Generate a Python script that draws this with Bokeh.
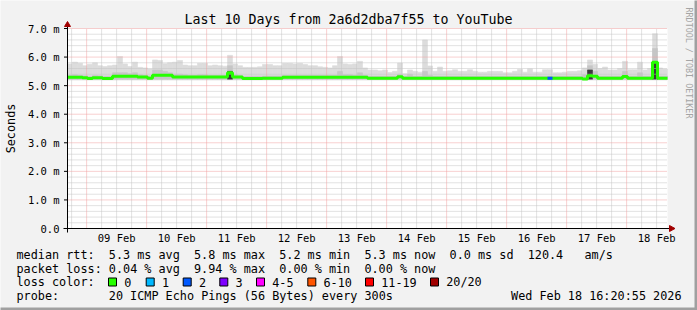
import re
import math
from datetime import datetime, timedelta
from bokeh.plotting import figure
from bokeh.models import Range1d
from bokeh.core.properties import value
from bokeh.embed import file_html
from bokeh.resources import INLINE

# ---------------- data ----------------
end_time = datetime(2026, 2, 18, 16, 20, 55)
days_shown = 10
bin_hours = 2

# median rtt per 2-hour bin (ms)
median_rtt = [
    5.29, 5.29, 5.29, 5.28, 5.25, 5.28, 5.28, 5.25, 5.25, 5.33,
    5.33, 5.33, 5.33, 5.33, 5.30, 5.30, 5.26, 5.36, 5.36, 5.36,
    5.36, 5.30, 5.30, 5.30, 5.30, 5.30, 5.30, 5.30, 5.30, 5.30,
    5.30, 5.30, 5.45, 5.30, 5.30, 5.25, 5.25, 5.25, 5.25, 5.26,
    5.26, 5.26, 5.26, 5.29, 5.29, 5.29, 5.29, 5.29, 5.29, 5.29,
    5.29, 5.29, 5.29, 5.29, 5.29, 5.29, 5.29, 5.29, 5.29, 5.29,
    5.26, 5.26, 5.26, 5.26, 5.26, 5.26, 5.31, 5.26, 5.26, 5.26,
    5.26, 5.26, 5.26, 5.26, 5.26, 5.26, 5.26, 5.26, 5.26, 5.26,
    5.26, 5.26, 5.26, 5.26, 5.26, 5.26, 5.26, 5.26, 5.26, 5.26,
    5.26, 5.26, 5.26, 5.26, 5.26, 5.26, 5.26, 5.26, 5.26, 5.26,
    5.26, 5.26, 5.26, 5.23, 5.35, 5.33, 5.26, 5.26, 5.26, 5.26,
    5.26, 5.32, 5.26, 5.26, 5.26, 5.26, 5.26, 5.82, 5.26, 5.26,
]

# highest ping of each bin (top of the light smoke), ms
smoke_max = [
    5.76, 5.82, 5.78, 5.70, 5.75, 5.80, 5.70, 5.67, 5.70, 5.72,
    6.02, 5.76, 5.67, 5.82, 5.64, 5.62, 5.58, 5.90, 5.88, 5.77,
    5.80, 5.82, 5.88, 5.72, 5.70, 5.70, 5.78, 5.78, 5.70, 5.72,
    5.70, 5.68, 6.06, 5.76, 5.70, 5.64, 5.64, 5.64, 5.66, 5.74,
    5.74, 5.70, 5.70, 5.78, 5.78, 5.76, 5.78, 5.74, 5.70, 5.70,
    5.66, 5.64, 5.62, 5.70, 6.02, 5.76, 5.74, 5.76, 5.85, 5.62,
    5.55, 5.55, 5.52, 5.55, 5.46, 5.50, 5.79, 5.42, 5.55, 5.50,
    5.47, 6.60, 5.69, 5.50, 5.65, 5.50, 5.52, 5.56, 5.50, 5.50,
    5.56, 5.50, 5.47, 5.47, 5.50, 5.50, 5.50, 5.45, 5.45, 5.50,
    5.57, 5.47, 5.59, 5.47, 5.47, 5.56, 5.56, 5.45, 5.45, 5.47,
    5.50, 5.50, 5.52, 5.62, 5.90, 5.75, 5.60, 5.65, 5.55, 5.55,
    5.60, 5.85, 5.56, 5.56, 5.82, 5.55, 5.60, 6.82, 5.62, 5.58,
]

# top of the denser (medium grey) part of the smoke, ms
smoke_mid = [
    5.36, 5.38, 5.36, 5.35, 5.33, 5.36, 5.35, 5.33, 5.33, 5.45,
    5.45, 5.45, 5.42, 5.45, 5.38, 5.36, 5.34, 5.55, 5.55, 5.50,
    5.45, 5.40, 5.40, 5.38, 5.36, 5.36, 5.38, 5.38, 5.36, 5.36,
    5.36, 5.36, 5.70, 5.38, 5.36, 5.33, 5.33, 5.33, 5.33, 5.34,
    5.34, 5.34, 5.34, 5.36, 5.36, 5.36, 5.36, 5.36, 5.36, 5.36,
    5.36, 5.36, 5.36, 5.36, 5.50, 5.38, 5.38, 5.36, 5.45, 5.36,
    5.33, 5.33, 5.33, 5.33, 5.33, 5.33, 5.40, 5.33, 5.40, 5.33,
    5.33, 5.50, 5.36, 5.33, 5.33, 5.33, 5.33, 5.33, 5.33, 5.33,
    5.33, 5.33, 5.33, 5.33, 5.33, 5.33, 5.33, 5.33, 5.33, 5.33,
    5.33, 5.33, 5.33, 5.33, 5.33, 5.33, 5.33, 5.33, 5.33, 5.33,
    5.33, 5.33, 5.33, 5.38, 5.70, 5.50, 5.33, 5.33, 5.33, 5.33,
    5.33, 5.50, 5.33, 5.33, 5.45, 5.33, 5.33, 6.30, 5.33, 5.33,
]

# top of the darkest smoke (0 = none), ms
smoke_dark = [
    0, 0, 0, 0, 0, 0, 0, 0, 0, 0,
    0, 0, 0, 0, 0, 0, 0, 0, 0, 0,
    0, 0, 0, 0, 0, 0, 0, 0, 0, 0,
    0, 0, 5.50, 0, 0, 0, 0, 0, 0, 0,
    0, 0, 0, 0, 0, 0, 0, 0, 0, 0,
    0, 0, 0, 0, 0, 0, 0, 0, 0, 0,
    0, 0, 0, 0, 0, 0, 0, 0, 0, 0,
    0, 0, 0, 0, 0, 0, 0, 0, 0, 0,
    0, 0, 0, 0, 0, 0, 0, 0, 0, 0,
    0, 0, 0, 0, 0, 0, 0, 0, 0, 0,
    0, 0, 0, 0, 5.55, 0, 0, 0, 0, 0,
    0, 0, 0, 0, 0, 0, 0, 5.82, 0, 0,
]
smoke_floor = 5.22

# lost pings (of 20) per bin
loss_count = [
    0, 0, 0, 0, 0, 0, 0, 0, 0, 0,
    0, 0, 0, 0, 0, 0, 0, 0, 0, 0,
    0, 0, 0, 0, 0, 0, 0, 0, 0, 0,
    0, 0, 0, 0, 0, 0, 0, 0, 0, 0,
    0, 0, 0, 0, 0, 0, 0, 0, 0, 0,
    0, 0, 0, 0, 0, 0, 0, 0, 0, 0,
    0, 0, 0, 0, 0, 0, 0, 0, 0, 0,
    0, 0, 0, 0, 0, 0, 0, 0, 0, 0,
    0, 0, 0, 0, 0, 0, 0, 0, 0, 0,
    0, 0, 0, 0, 0, 0, 2, 0, 0, 0,
    0, 0, 0, 0, 0, 0, 0, 0, 0, 0,
    0, 0, 0, 0, 0, 0, 0, 0, 0, 0,
]

day_labels = ["09 Feb", "10 Feb", "11 Feb", "12 Feb", "13 Feb",
              "14 Feb", "15 Feb", "16 Feb", "17 Feb", "18 Feb"]
y_values = [0, 1, 2, 3, 4, 5, 6, 7]
y_labels = ["0.0", "1.0 m", "2.0 m", "3.0 m", "4.0 m", "5.0 m", "6.0 m", "7.0 m"]

loss_names = ["0", "1", "2", "3", "4-5", "6-10", "11-19", "20/20"]
loss_colors = ["#26ff00", "#00b8ff", "#0059ff", "#7e00ff",
               "#ff00ff", "#ff5500", "#ff0000", "#a10000"]

title_text = "Last 10 Days from 2a6d2dba7f55 to YouTube"
row_rtt = "median rtt:  5.3 ms avg  5.8 ms max  5.2 ms min  5.3 ms now  0.0 ms sd  120.4   am/s"
row_loss = "packet loss: 0.04 % avg  9.94 % max  0.00 % min  0.00 % now"
row_color = "loss color:"
row_probe = "probe:       20 ICMP Echo Pings (56 Bytes) every 300s"
stamp_text = "Wed Feb 18 16:20:55 2026"
side_text = "RRDTOOL / TOBI OETIKER"
y_title = "Seconds"

# ---------------- helpers ----------------
EPOCH = datetime(1970, 1, 1)


def ms(dt):
    return int(round((dt - EPOCH).total_seconds() * 1000))


start_time = end_time - timedelta(days=days_shown)
T0, T1 = ms(start_time), ms(end_time)
n = len(median_rtt)
lefts = [ms(start_time + timedelta(hours=bin_hours * i)) for i in range(n)]
rights = [ms(start_time + timedelta(hours=bin_hours * (i + 1))) for i in range(n)]

W, H = 697, 310
PL, PT, PW, PH = 67, 28, 600, 200      # plot area in the picture
YMAX = 7.0


def xd(px):
    return T0 + (px - PL) / PW * (T1 - T0)


def yd(py):
    return (PT + PH - py) / PH * YMAX


MONO = "DejaVu Sans Mono"

p = figure(width=W, height=H, output_backend="svg", toolbar_location=None,
           x_range=Range1d(xd(0), xd(W)), y_range=Range1d(yd(H), yd(0)),
           x_axis_location=None, y_axis_location=None, min_border=0,
           background_fill_color="#f2f2f2", border_fill_color="#f2f2f2",
           outline_line_color=None, title=None)
p.xgrid.visible = False
p.ygrid.visible = False

# ---- canvas of the graph ----
p.quad(left=[T0], right=[T1], bottom=[0], top=[YMAX], fill_color="white", line_color=None)

# ---- smoke ----
p.quad(left=lefts, right=rights, bottom=smoke_floor, top=smoke_max,
       fill_color="#dcdcdc", line_color="#dcdcdc", line_width=0.6)
p.quad(left=lefts, right=rights, bottom=smoke_floor, top=smoke_mid,
       fill_color="#c6c6c6", line_color="#c6c6c6", line_width=0.6)
dk = [i for i in range(n) if smoke_dark[i] > 0]
p.quad(left=[lefts[i] for i in dk], right=[rights[i] for i in dk],
       bottom=smoke_floor, top=[smoke_dark[i] for i in dk],
       fill_color="#3a3a3a", line_color="#3a3a3a", line_width=0.6)

# ---- grid (drawn over the smoke, like rrdtool) ----
midnights = [ms(datetime(2026, 2, 9 + k)) for k in range(10)]
six_hours = []
tt = datetime(2026, 2, 8, 18)
while tt < end_time:
    if tt.hour != 0:
        six_hours.append(ms(tt))
    tt += timedelta(hours=6)
minor_y = [round(0.2 * k, 1) for k in range(1, 35) if k % 5]
major_y = [v for v in y_values if v > 0]

p.segment(x0=six_hours, x1=six_hours, y0=0, y1=YMAX, line_color="#c4c4c4",
          line_width=1, line_dash="1 1")
p.segment(x0=T0, x1=T1, y0=minor_y, y1=minor_y, line_color="#c4c4c4",
          line_width=1, line_dash="1 1")
p.segment(x0=midnights, x1=midnights, y0=0, y1=YMAX, line_color="#f0a0a0",
          line_width=1, line_dash="1 1")
p.segment(x0=T0, x1=T1, y0=major_y, y1=major_y, line_color="#f0a0a0",
          line_width=1, line_dash="1 1")

# ---- median line coloured by loss ----
p.step(x=lefts + [T1], y=median_rtt + [median_rtt[-1]], mode="after",
       line_color=loss_colors[0], line_width=3)


def loss_index(c):
    if c <= 3:
        return c
    if c <= 5:
        return 4
    if c <= 10:
        return 5
    if c <= 19:
        return 6
    return 7


lb = [i for i in range(n) if loss_count[i] > 0]
p.segment(x0=[lefts[i] for i in lb], x1=[rights[i] for i in lb],
          y0=[median_rtt[i] for i in lb], y1=[median_rtt[i] for i in lb],
          line_color=[loss_colors[loss_index(loss_count[i])] for i in lb], line_width=3)

# ---- axes ----
p.segment(x0=[xd(63)], x1=[xd(669)], y0=[0], y1=[0], line_color="black", line_width=1)
p.segment(x0=[T0], x1=[T0], y0=[yd(232)], y1=[yd(25)], line_color="black", line_width=1)
p.segment(x0=xd(63.5), x1=T0, y0=y_values, y1=y_values, line_color="black", line_width=1)
p.patch(x=[xd(64), xd(70), xd(67)], y=[yd(26), yd(26), yd(21)],
        fill_color="#a10000", line_color="#a10000")
p.patch(x=[xd(669), xd(669), xd(674.5)], y=[yd(225), yd(231), yd(228)],
        fill_color="#a10000", line_color="#a10000")

noons = [ms(datetime(2026, 2, 9 + k, 12, 0, 0)) for k in range(len(day_labels))]
p.text(x=noons, y=yd(237), text=day_labels, text_font=value(MONO),
       text_font_size="10.5px", text_align="center", text_baseline="middle",
       text_color="black")
p.text(x=xd(59), y=y_values, text=y_labels, text_font=value(MONO),
       text_font_size="10.5px", text_align="right", text_baseline="middle",
       text_color="black")


# ---- texts (positioned by their middle line) ----
def label(text, px, py, size="11.8px", align="left", color="black", angle=0.0):
    p.text(x=[xd(px)], y=[yd(py)], text=[text], text_font=value(MONO),
           text_font_size=size, text_align=align, text_baseline="middle",
           text_color=color, angle=angle)


CW = 7.1   # monospace advance of the legend font
MID = 4.2  # baseline -> middle of the legend font


def row(text, baseline_py):
    for m in re.finditer(r"\S+(?: \S+)*", text):
        label(m.group(0), 16 + m.start() * CW, baseline_py - MID)


label(title_text, 348, 24 - 4.6, size="13.3px", align="center")
row(row_rtt, 258.5)
row(row_loss, 272.2)
row(row_color, 285.8)
row(row_probe, 299.4)
label(stamp_text, 681, 299.4 - MID, align="right")
label(side_text, 688.5, 7, size="8.4px", align="left", color="#a4a4a4",
      angle=-math.pi / 2)
label(y_title, 10.5, 128, size="11.8px", align="center", angle=math.pi / 2)

box_x = [108, 145.7, 182.7, 219.3, 256, 307.3, 365, 430]
p.quad(left=[xd(b) for b in box_x], right=[xd(b + 8) for b in box_x],
       top=yd(277.5), bottom=yd(285.5), fill_color=loss_colors,
       line_color="black", line_width=1)
for bx, name in zip(box_x, loss_names):
    label(name, bx + 15.7, 285.8 - MID)

# ---- frame shading ----
p.quad(left=[xd(694)], right=[xd(698)], top=[yd(-1)], bottom=[yd(311)],
       fill_color="#a0a0a0", line_color=None)
p.quad(left=[xd(-1)], right=[xd(698)], top=[yd(307)], bottom=[yd(311)],
       fill_color="#a0a0a0", line_color=None)

open("out.html", "w").write(file_html(p, INLINE))
